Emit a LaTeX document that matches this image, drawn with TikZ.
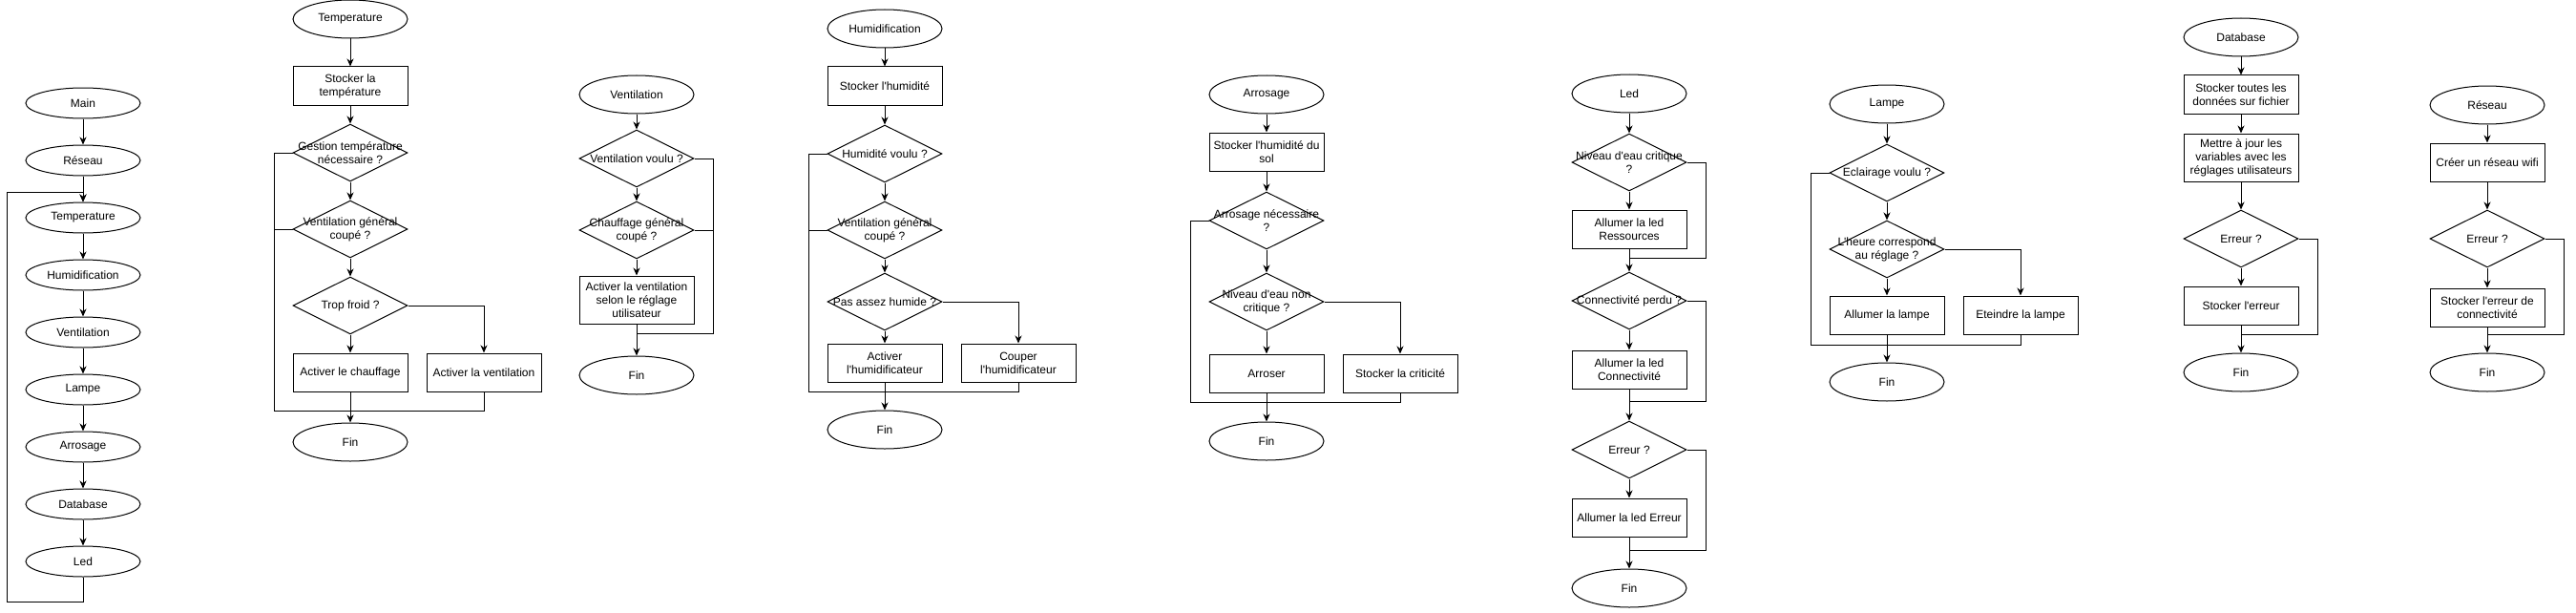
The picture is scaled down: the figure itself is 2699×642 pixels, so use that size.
\documentclass[tikz,border=0pt]{standalone}
\usepackage{fontspec}
\setmainfont{Liberation Sans}
\usetikzlibrary{arrows.meta,positioning,shapes.geometric}
\newcommand{\apo}{\textquotesingle}
\tikzset{
  >={Stealth[length=8pt,width=7pt,inset=2.5pt]},
  flow/.style ={x=1pt, y=-1pt, line width=1pt, font=\fontsize{12}{14}\selectfont},
  term/.style ={draw, ellipse, minimum width=120pt, minimum height=40pt, inner sep=0pt},
  mterm/.style={term, minimum height=32pt},
  proc/.style ={draw, minimum width=120pt, minimum height=40pt, inner sep=1pt, align=center},
  dec/.style  ={draw, diamond, minimum width=120pt, minimum height=60pt, inner sep=0pt},
  q/.style    ={label={[align=center]center:#1}}
}
\begin{document}
\begin{tikzpicture}[flow]
\useasboundingbox (0,0) rectangle (2699,642);

\node[mterm] (main) at (87,108) {Main};
\node[mterm] (mres) at (87,168) {Réseau};
\node[mterm] (mtem) at (87,228) {Temperature};
\node[mterm] (mhum) at (87,288) {Humidification};
\node[mterm] (mven) at (87,348) {Ventilation};
\node[mterm] (mlam) at (87,408) {Lampe};
\node[mterm] (marr) at (87,468) {Arrosage};
\node[mterm] (mdat) at (87,528) {Database};
\node[mterm] (mled) at (87,588) {Led};
\coordinate (mlb) at (87,630);
\coordinate (mlt) at (7,201);
\draw[->] (main) -- (mres);
\draw[->] (mres) -- (mtem);
\draw[->] (mtem) -- (mhum);
\draw[->] (mhum) -- (mven);
\draw[->] (mven) -- (mlam);
\draw[->] (mlam) -- (marr);
\draw[->] (marr) -- (mdat);
\draw[->] (mdat) -- (mled);
\draw[->] (mled) -- (mlb) -| (mlt) -- (mlt -| mtem) -- (mtem);

\node[term] (temp) at (367,20) {Temperature};
\node[proc] (tsto) at (367,90) {Stocker la\\température};
\node[dec, q={Gestion température\\nécessaire ?}] (tges) at (367,160) {};
\node[dec, q={Ventilation général\\coupé ?}] (tven) at (367,240) {};
\node[dec, q={Trop froid ?}] (tfro) at (367,320) {};
\node[proc] (tcha) at (367,390) {Activer le chauffage};
\node[proc] (tact) at (507,390) {Activer la ventilation};
\node[term] (tfin) at (367,463) {Fin};
\coordinate (tl) at (287,430);
\coordinate (tm) at (367,430);
\draw[->] (temp) -- (tsto);
\draw[->] (tsto) -- (tges);
\draw[->] (tges) -- (tven);
\draw[->] (tven) -- (tfro);
\draw[->] (tfro) -- (tcha);
\draw[->] (tfro) -| (tact);
\draw[->] (tcha) -- (tfin);
\draw (tact) |- (tm);
\draw (tges) -| (tl) -- (tm);
\draw (tven) -| (tl);

\node[term] (vent) at (667,99) {Ventilation};
\node[dec, q={Ventilation voulu ?}] (vvou) at (667,166) {};
\node[dec, q={Chauffage général\\coupé ?}] (vcha) at (667,241) {};
\node[proc, minimum height=50pt] (vact) at (667,314) {Activer la ventilation\\selon le réglage\\utilisateur};
\node[term] (vfin) at (667,393) {Fin};
\coordinate (vr) at (747,349);
\coordinate (vm) at (667,349);
\draw[->] (vent) -- (vvou);
\draw[->] (vvou) -- (vcha);
\draw[->] (vcha) -- (vact);
\draw[->] (vact) -- (vfin);
\draw (vvou) -| (vr) -- (vm);
\draw (vcha) -| (vr);

\node[term] (hum) at (927,30) {Humidification};
\node[proc] (hsto) at (927,90) {Stocker l\apo humidité};
\node[dec, q={Humidité voulu ?}] (hvou) at (927,161) {};
\node[dec, q={Ventilation général\\coupé ?}] (hven) at (927,241) {};
\node[dec, q={Pas assez humide ?}] (hpas) at (927,316) {};
\node[proc] (hact) at (927,380) {Activer\\l\apo humidificateur};
\node[proc] (hcou) at (1067,380) {Couper\\l\apo humidificateur};
\node[term] (hfin) at (927,450) {Fin};
\coordinate (hl) at (847,410);
\coordinate (hm) at (927,410);
\draw[->] (hum) -- (hsto);
\draw[->] (hsto) -- (hvou);
\draw[->] (hvou) -- (hven);
\draw[->] (hven) -- (hpas);
\draw[->] (hpas) -- (hact);
\draw[->] (hpas) -| (hcou);
\draw[->] (hact) -- (hfin);
\draw (hcou) |- (hm);
\draw (hvou) -| (hl) -- (hm);
\draw (hven) -| (hl);

\node[term] (arr) at (1327,99) {Arrosage};
\node[proc] (asto) at (1327,159) {Stocker l\apo humidité du\\sol};
\node[dec, q={Arrosage nécessaire\\?}] (anec) at (1327,231) {};
\node[dec, q={Niveau d\apo eau non\\critique ?}] (aniv) at (1327,316) {};
\node[proc] (aaro) at (1327,391) {Arroser};
\node[proc] (acri) at (1467,391) {Stocker la criticité};
\node[term] (afin) at (1327,462) {Fin};
\coordinate (al) at (1247,421);
\coordinate (am) at (1327,421);
\draw[->] (arr) -- (asto);
\draw[->] (asto) -- (anec);
\draw[->] (anec) -- (aniv);
\draw[->] (aniv) -- (aaro);
\draw[->] (aniv) -| (acri);
\draw[->] (aaro) -- (afin);
\draw (acri) |- (am);
\draw (anec) -| (al) -- (am);

\node[term] (led) at (1707,98) {Led};
\node[dec, q={Niveau d\apo eau critique\\?}] (lniv) at (1707,170) {};
\node[proc] (lres) at (1707,240) {Allumer la led\\Ressources};
\node[dec, q={Connectivité perdu ?}] (lcon) at (1707,315) {};
\node[proc] (lcoa) at (1707,387) {Allumer la led\\Connectivité};
\node[dec, q={Erreur ?}] (lerr) at (1707,471) {};
\node[proc] (lera) at (1707,542) {Allumer la led Erreur};
\node[term] (lfin) at (1707,616) {Fin};
\coordinate (lr1) at (1787,270);
\coordinate (lm1) at (1707,270);
\coordinate (lr2) at (1787,420);
\coordinate (lm2) at (1707,420);
\coordinate (lr3) at (1787,576);
\coordinate (lm3) at (1707,576);
\draw[->] (led) -- (lniv);
\draw[->] (lniv) -- (lres);
\draw[->] (lres) -- (lcon);
\draw[->] (lcon) -- (lcoa);
\draw[->] (lcoa) -- (lerr);
\draw[->] (lerr) -- (lera);
\draw[->] (lera) -- (lfin);
\draw (lniv) -| (lr1) -- (lm1);
\draw (lcon) -| (lr2) -- (lm2);
\draw (lerr) -| (lr3) -- (lm3);

\node[term] (lam) at (1977,109) {Lampe};
\node[dec, q={Eclairage voulu ?}] (pecl) at (1977,181) {};
\node[dec, q={L\apo heure correspond\\au réglage ?}] (pheu) at (1977,261) {};
\node[proc] (pall) at (1977,330) {Allumer la lampe};
\node[proc] (pete) at (2117,330) {Eteindre la lampe};
\node[term] (pfin) at (1977,400) {Fin};
\coordinate (pl) at (1897,361);
\coordinate (pm) at (1977,361);
\draw[->] (lam) -- (pecl);
\draw[->] (pecl) -- (pheu);
\draw[->] (pheu) -- (pall);
\draw[->] (pheu) -| (pete);
\draw[->] (pall) -- (pfin);
\draw (pete) |- (pm);
\draw (pecl) -| (pl) -- (pm);

\node[term] (dat) at (2348,39) {Database};
\node[proc] (dsto) at (2348,99) {Stocker toutes les\\données sur fichier};
\node[proc, minimum height=50pt] (dmaj) at (2348,165) {Mettre à jour les\\variables avec les\\réglages utilisateurs};
\node[dec, q={Erreur ?}] (derr) at (2348,250) {};
\node[proc] (dsta) at (2348,320) {Stocker l\apo erreur};
\node[term] (dfin) at (2348,390) {Fin};
\coordinate (dr) at (2428,350);
\coordinate (dm) at (2348,350);
\draw[->] (dat) -- (dsto);
\draw[->] (dsto) -- (dmaj);
\draw[->] (dmaj) -- (derr);
\draw[->] (derr) -- (dsta);
\draw[->] (dsta) -- (dfin);
\draw (derr) -| (dr) -- (dm);

\node[term] (res) at (2606,110) {Réseau};
\node[proc] (rcre) at (2606,170) {Créer un réseau wifi};
\node[dec, q={Erreur ?}] (rerr) at (2606,250) {};
\node[proc] (rsto) at (2606,322) {Stocker l\apo erreur de\\connectivité};
\node[term] (rfin) at (2606,390) {Fin};
\coordinate (rr) at (2686,350);
\coordinate (rm) at (2606,350);
\draw[->] (res) -- (rcre);
\draw[->] (rcre) -- (rerr);
\draw[->] (rerr) -- (rsto);
\draw[->] (rsto) -- (rfin);
\draw (rerr) -| (rr) -- (rm);
\end{tikzpicture}
\end{document}
